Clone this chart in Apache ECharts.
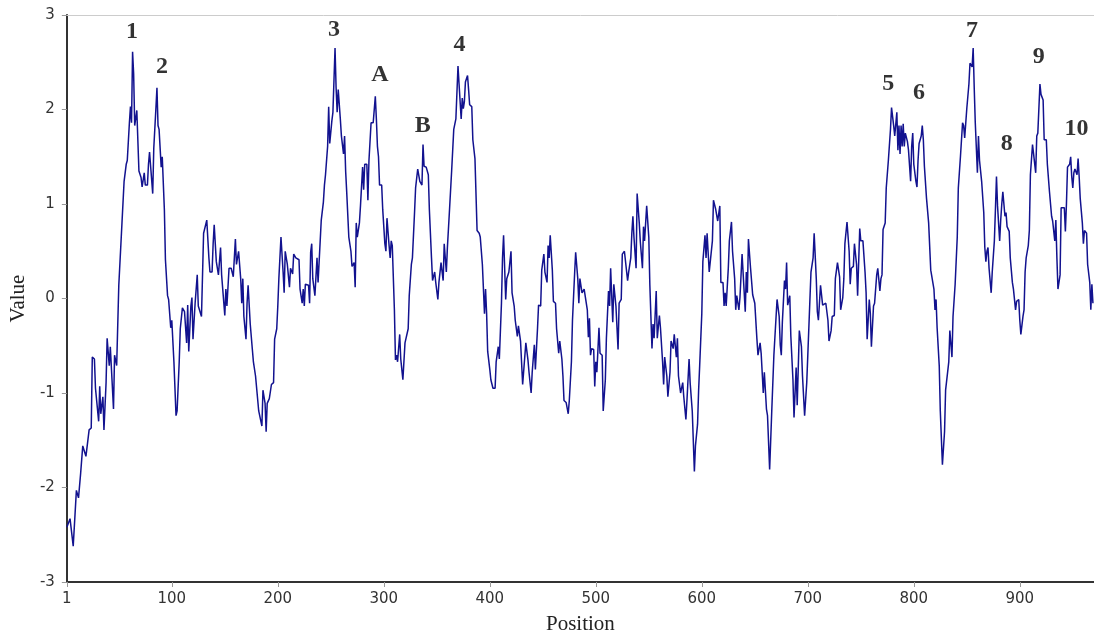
<!DOCTYPE html>
<html>
<head>
<meta charset="utf-8">
<script src="https://cdn.jsdelivr.net/npm/echarts@6/dist/echarts.min.js"></script>
<style>
  html, body { margin: 0; padding: 0; background: #fff; }
  #chart { width: 1094px; height: 640px; }
</style>
</head>
<body>
<div id="chart"></div>
<script>
// trace, [position, value]
var seg1 = [[1,-2.42],[4,-2.33],[7,-2.62],[10,-2.03],[12,-2.11],[14,-1.85],[16,-1.56],[19,-1.67],[22,-1.39],[24,-1.37],[25,-0.62],[27,-0.64],[28,-0.95],[31,-1.30],[32,-0.93],[33,-1.22],[35,-1.04],[36,-1.39],[38,-0.89],[39,-0.42],[41,-0.71],[42,-0.51],[45,-1.17],[46,-0.60],[48,-0.71],[50,0.14],[52,0.58],[53,0.80],[55,1.24],[57,1.42],[58,1.46],[60,1.86],[61,2.03],[62,1.86],[63,2.61],[64,2.38],[65,1.83],[67,1.99],[68,1.97],[69,1.35],[71,1.28],[72,1.18],[74,1.33],[75,1.20],[77,1.20],[78,1.42],[79,1.55],[82,1.11],[83,1.59],[85,2.01],[86,2.23],[87,1.83],[88,1.79],[90,1.39],[91,1.50],[93,0.94],[94,0.41],[96,0.03],[97,-0.01],[99,-0.31],[100,-0.23],[102,-0.67],[104,-1.24],[105,-1.19],[107,-0.67],[108,-0.32],[110,-0.10],[112,-0.14],[114,-0.47],[115,-0.07],[116,-0.56],[118,-0.08],[119,0.01],[120,-0.43],[122,-0.05],[124,0.25],[125,-0.08],[128,-0.19]];
var seg2 = [[130,0.69],[133,0.83],[135,0.43],[136,0.28],[138,0.28],[139,0.58],[140,0.78],[142,0.39],[143,0.39],[144,0.25],[146,0.54],[147,0.25],[150,-0.18],[151,0.10],[152,-0.08],[154,0.32],[156,0.32],[158,0.23],[160,0.63],[161,0.36],[163,0.50],[165,0.21],[166,-0.05],[167,0.21],[168,-0.19],[170,-0.43],[171,-0.05],[172,0.14],[174,-0.27],[176,-0.54],[177,-0.67],[179,-0.82],[180,-0.84],[182,-1.19],[183,-1.21],[185,-1.35],[186,-0.97],[188,-1.11],[189,-1.41],[190,-1.11],[192,-1.06],[194,-0.91],[196,-0.89],[197,-0.43],[199,-0.32],[200,-0.08],[201,0.21],[203,0.65],[205,0.28],[206,0.06],[207,0.50],[209,0.36],[211,0.12],[212,0.32],[214,0.26],[215,0.47],[217,0.43],[220,0.41],[221,0.10],[223,-0.05],[224,0.10],[225,-0.08],[226,0.15],[229,0.14],[230,-0.05],[231,0.49],[232,0.58],[233,0.21],[235,0.03],[237,0.43],[238,0.17],[240,0.61],[241,0.83]];
var seg3 = [[243,1.02],[244,1.20],[245,1.31],[247,1.61],[248,2.03],[249,1.64],[251,1.88],[252,1.97],[254,2.65],[255,2.23],[256,1.97],[257,2.21],[259,1.90],[260,1.72],[262,1.53],[263,1.72],[264,1.35],[265,1.13],[267,0.65],[269,0.50],[270,0.34],[272,0.38],[273,0.12],[274,0.80],[275,0.65],[277,0.80],[278,0.98],[280,1.39],[281,1.15],[282,1.42],[284,1.42],[285,1.04],[286,1.46],[288,1.86],[290,1.86],[292,2.14],[293,1.90],[294,1.61],[295,1.50],[296,1.20],[298,1.20],[299,0.94],[301,0.58],[302,0.50],[303,0.85],[305,0.56],[306,0.43],[307,0.61],[308,0.56],[310,-0.12],[311,-0.65],[312,-0.60],[313,-0.67],[315,-0.38],[316,-0.64],[318,-0.86],[320,-0.47],[321,-0.45],[323,-0.32],[324,0.03],[326,0.36],[327,0.43],[329,0.91],[330,1.17],[332,1.37],[334,1.24],[336,1.20],[337,1.63],[338,1.40],[340,1.39],[342,1.31],[343,0.94],[345,0.43],[346,0.19],[348,0.28],[349,0.17],[351,-0.01],[352,0.17],[354,0.38],[356,0.19],[357,0.58],[359,0.28],[360,0.54],[362,0.94],[364,1.35]];
var seg4 = [[366,1.79],[368,1.90],[370,2.46],[371,2.27],[373,1.90],[374,2.12],[375,2.01],[376,2.08],[377,2.29],[379,2.36],[380,2.21],[381,2.05],[383,2.03],[384,1.68],[386,1.48],[387,1.46],[388,0.72],[390,0.69],[391,0.65],[393,0.36],[395,-0.16],[396,0.10],[397,-0.16],[398,-0.56],[400,-0.75],[401,-0.86],[403,-0.95],[405,-0.95],[406,-0.67],[408,-0.51],[409,-0.64],[411,-0.05],[412,0.43],[413,0.67],[415,-0.01],[416,0.21],[418,0.28],[420,0.50],[421,0.06],[423,-0.08],[424,-0.23],[426,-0.40],[427,-0.29],[429,-0.45],[431,-0.91],[432,-0.93],[434,-0.47],[436,-0.65],[437,-0.78],[439,-1.00],[440,-0.78],[442,-0.49],[443,-0.75],[445,-0.32],[446,-0.07],[448,-0.08],[449,0.30],[451,0.47],[452,0.28],[454,0.17],[455,0.56],[456,0.43],[457,0.67],[459,0.30],[460,-0.03],[462,-0.05],[463,-0.32],[465,-0.58],[466,-0.45],[468,-0.64],[469,-0.82],[470,-1.08],[472,-1.10],[474,-1.22],[475,-1.08],[477,-0.67],[478,-0.23],[480,0.26],[481,0.49],[483,0.21],[484,-0.05],[485,0.21],[487,0.06]];
var seg5 = [[489,0.10],[490,0.08],[492,-0.12],[493,-0.41],[494,-0.21],[495,-0.60],[496,-0.53],[498,-0.54],[499,-0.93],[500,-0.67],[501,-0.78],[503,-0.31],[504,-0.58],[506,-0.60],[507,-1.19],[509,-0.86],[510,-0.42],[512,0.08],[513,-0.08],[514,0.32],[516,-0.25],[517,0.15],[519,-0.08],[521,-0.54],[522,-0.05],[524,-0.01],[525,0.47],[527,0.50],[528,0.49],[530,0.19],[531,0.28],[533,0.43],[534,0.69],[535,0.87],[536,0.65],[538,0.32],[539,1.11],[541,0.80],[542,0.60],[544,0.32],[545,0.76],[546,0.61],[548,0.98],[550,0.65],[551,0.14],[553,-0.53],[554,-0.27],[555,-0.42],[557,0.08],[558,-0.42],[560,-0.18],[561,-0.31],[563,-0.67],[564,-0.91],[565,-0.62],[567,-0.82],[568,-1.04],[570,-0.78],[571,-0.45],[573,-0.53],[574,-0.38],[576,-0.62],[577,-0.42],[578,-0.82],[580,-1.00],[582,-0.89],[583,-1.04],[585,-1.28],[586,-1.08],[588,-0.64],[589,-0.89],[591,-1.19],[593,-1.83],[594,-1.56],[596,-1.33],[597,-0.97],[598,-0.71],[600,-0.16],[601,0.39],[603,0.67],[604,0.43],[605,0.69],[607,0.28],[608,0.28],[610,0.61],[611,1.04],[613,0.95],[614,0.95],[615,0.82],[617,0.98]];
var seg6 = [[618,0.17],[620,0.17],[621,-0.08],[622,0.06],[623,-0.08],[625,0.32],[626,0.61],[628,0.81],[629,0.50],[631,0.21],[632,-0.12],[633,0.03],[635,-0.12],[636,0.01],[638,0.47],[639,0.47],[641,-0.14],[642,0.28],[643,0.06],[644,0.63],[646,0.32],[648,0.04],[649,0.04],[650,-0.05],[652,-0.43],[653,-0.60],[655,-0.47],[656,-0.58],[658,-1.00],[659,-0.78],[661,-1.17],[662,-1.24],[664,-1.81],[666,-1.19],[668,-0.60],[669,-0.58],[671,-0.01],[673,-0.19],[674,-0.49],[675,-0.60],[676,-0.25],[678,0.19],[679,0.10],[680,0.38],[681,-0.07],[683,0.03],[684,-0.40],[686,-0.86],[687,-1.26],[689,-0.73],[690,-1.13],[692,-0.34],[694,-0.51],[695,-0.82],[697,-1.24],[699,-0.89],[700,-0.60],[702,-0.01],[703,0.28],[705,0.43],[706,0.69],[708,0.21],[709,-0.14],[710,-0.23],[712,0.14],[714,-0.07],[715,-0.05],[717,-0.05],[719,-0.23],[720,-0.45],[722,-0.34],[723,-0.19],[725,-0.18],[726,0.21],[728,0.38],[730,0.23],[731,-0.12],[733,0.01],[734,0.21],[735,0.58],[737,0.81],[739,0.50]];
var seg7 = [[740,0.15],[741,0.32],[743,0.34],[744,0.58],[746,0.36],[747,0.03],[749,0.74],[750,0.61],[752,0.61],[754,0.28],[755,0.06],[756,-0.43],[758,-0.01],[759,-0.16],[760,-0.51],[762,-0.08],[763,-0.05],[765,0.25],[766,0.32],[768,0.08],[769,0.21],[770,0.25],[771,0.73],[773,0.80],[774,1.17],[776,1.46],[777,1.48],[778,1.79],[779,2.02],[781,1.83],[782,1.72],[783,1.70],[784,1.97],[785,1.57],[786,1.83],[787,1.53],[788,1.83],[789,1.61],[790,1.85],[791,1.61],[792,1.75],[794,1.66],[795,1.57],[797,1.24],[798,1.61],[799,1.75],[800,1.42],[802,1.24],[803,1.18],[804,1.46],[805,1.64],[807,1.72],[808,1.83],[809,1.68],[810,1.40],[812,1.06],[814,0.80],[816,0.30],[817,0.28],[819,0.10],[820,-0.12],[821,-0.01],[822,-0.31],[824,-0.71],[825,-1.19],[827,-1.76],[829,-1.41],[830,-0.97],[831,-0.99],[833,-0.67],[834,-0.34],[836,-0.62],[837,-0.19],[839,0.15],[841,0.65],[842,1.17],[844,1.50],[846,1.86],[847,1.83],[848,1.70],[850,2.01],[852,2.27]];
var seg8 = [[853,2.49],[855,2.45],[856,2.65],[857,2.23],[858,1.86],[860,1.33],[861,1.72],[862,1.46],[864,1.24],[866,0.91],[867,0.54],[868,0.39],[869,0.50],[870,0.54],[871,0.32],[873,0.06],[874,0.28],[876,0.61],[877,0.94],[878,1.29],[879,0.98],[881,0.61],[882,0.83],[883,1.00],[884,1.13],[886,0.87],[887,0.91],[888,0.76],[890,0.71],[891,0.43],[893,0.17],[894,0.10],[896,-0.12],[897,-0.03],[899,-0.01],[900,-0.23],[901,-0.38],[903,-0.19],[904,-0.12],[905,0.28],[906,0.43],[908,0.56],[909,0.72],[910,1.31],[912,1.63],[913,1.53],[915,1.33],[916,1.72],[917,1.75],[919,2.27],[920,2.16],[922,2.10],[923,1.68],[925,1.68],[926,1.42],[928,1.13],[929,1.13],[930,0.87],[931,0.82],[933,0.61],[934,0.83],[935,0.43],[936,0.10],[938,0.25],[939,0.96],[940,0.96],[942,0.96],[943,0.71],[944,1.00],[945,1.39],[947,1.42],[948,1.50],[949,1.29],[950,1.17],[951,1.33],[952,1.37],[954,1.31],[955,1.48],[956,1.29],[957,1.06],[959,0.80],[960,0.58],[961,0.72],[963,0.69],[964,0.36],[966,0.17],[967,-0.12],[968,0.15],[969,-0.05]];

// peak names and where their text sits (position, value)
var peakNames = ['1','2','3','A','B','4','5','6','7','8','9','10'];
var peakPos   = [62.5, 90.7, 253, 296.3, 336.7, 371.4, 776, 805, 855, 887.8, 917.9, 953.6];
var peakVal   = [2.82, 2.45, 2.84, 2.37, 1.83, 2.68, 2.27, 2.18, 2.83, 1.64, 2.56, 1.80];

var xTicks = [1, 100, 200, 300, 400, 500, 600, 700, 800, 900];
var yMin = -3, yMax = 3;

var trace = [].concat(seg1, seg2, seg3, seg4, seg5, seg6, seg7, seg8);
var peaks = peakNames.map(function (n, i) { return { name: n, value: [peakPos[i], peakVal[i]] }; });

var chart = echarts.init(document.getElementById('chart'), null, { renderer: 'canvas' });

var tickFont = { fontFamily: 'DejaVu Sans', fontSize: 15, color: '#333' };

chart.setOption({
  animation: false,
  backgroundColor: '#fff',
  grid: { left: 63, top: 15, right: 0, bottom: 51, containLabel: false },
  xAxis: [{
    type: 'value',
    min: 1,
    max: 970,
    name: 'Position',
    nameLocation: 'middle',
    nameGap: 32,
    nameTextStyle: { fontFamily: 'Liberation Serif', fontSize: 21, color: '#222' },
    axisLine: { onZero: false, lineStyle: { color: '#333', width: 2 } },
    axisTick: { show: true, length: 5, lineStyle: { color: '#999' }, customValues: xTicks },
    axisLabel: Object.assign({ customValues: xTicks, margin: 10 }, tickFont),
    splitLine: { show: false }
  }, {
    type: 'value',
    position: 'top',
    min: 1,
    max: 970,
    axisLine: { show: true, onZero: false, lineStyle: { color: '#ccc', width: 1 } },
    axisTick: { show: false },
    axisLabel: { show: false },
    splitLine: { show: false }
  }],
  yAxis: {
    type: 'value',
    min: yMin,
    max: yMax,
    interval: 1,
    name: 'Value',
    nameLocation: 'middle',
    nameGap: 31,
    nameTextStyle: { fontFamily: 'Liberation Serif', fontSize: 21, color: '#222' },
    axisLine: { show: true, onZero: false, lineStyle: { color: '#333', width: 2 } },
    axisTick: { show: true, length: 5, lineStyle: { color: '#999' } },
    axisLabel: Object.assign({ margin: 12 }, tickFont),
    splitLine: { show: false }
  },
  series: [{
    type: 'line',
    data: trace,
    showSymbol: false,
    symbol: 'none',
    lineStyle: { color: '#12128f', width: 1.5 },
    z: 2
  }, {
    type: 'scatter',
    data: peaks,
    symbolSize: 0,
    silent: true,
    label: {
      show: true,
      position: 'inside',
      formatter: '{b}',
      fontFamily: 'Liberation Serif',
      fontWeight: 'bold',
      fontSize: 24,
      color: '#000',
      textBorderWidth: 0
    },
    z: 3
  }]
});
</script>
</body>
</html>
